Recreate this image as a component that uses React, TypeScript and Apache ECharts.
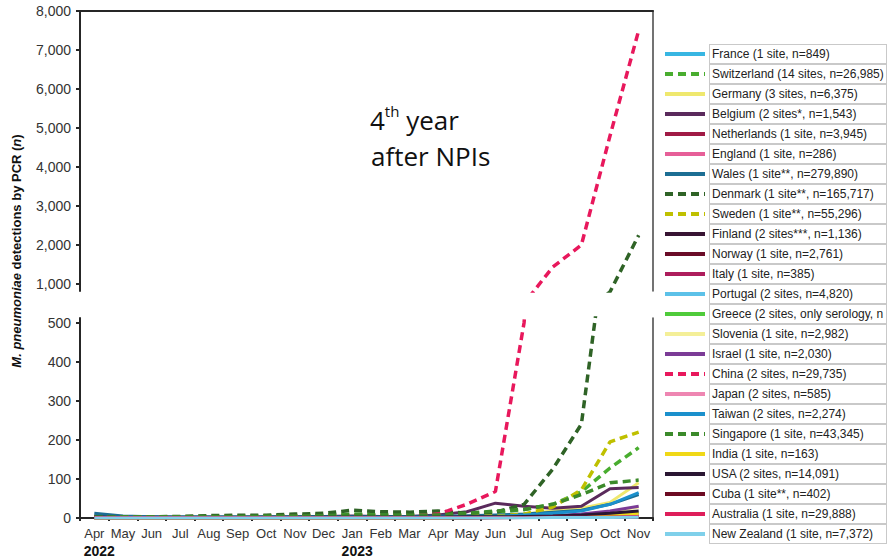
import React, { useEffect, useRef } from "react";
import * as echarts from "echarts";

// Monthly M. pneumoniae PCR detections, April 2022 – November 2023
const periods = [
  "2022-04", "2022-05", "2022-06", "2022-07", "2022-08", "2022-09", "2022-10", "2022-11", "2022-12",
  "2023-01", "2023-02", "2023-03", "2023-04", "2023-05", "2023-06", "2023-07", "2023-08", "2023-09", "2023-10", "2023-11",
];
const monthLabels = [
  "Apr", "May", "Jun", "Jul", "Aug", "Sep", "Oct", "Nov", "Dec",
  "Jan", "Feb", "Mar", "Apr", "May", "Jun", "Jul", "Aug", "Sep", "Oct", "Nov",
];
const yearLabels = ["2022", "", "", "", "", "", "", "", "", "2023", "", "", "", "", "", "", "", "", "", ""];

const upperTicks = [1000, 2000, 3000, 4000, 5000, 6000, 7000, 8000];
const lowerTicks = [0, 100, 200, 300, 400, 500];

const france = [2, 1, 1, 1, 1, 1, 1, 1, 1, 1, 1, 1, 1, 1, 1, 2, 2, 3, 4, 5];
const switzerland = [4, 3, 3, 3, 4, 4, 5, 6, 8, 10, 9, 9, 10, 12, 14, 22, 35, 67, 128, 180];
const germany = [3, 2, 2, 2, 2, 2, 3, 3, 3, 4, 3, 3, 4, 4, 6, 10, 18, 25, 40, 90];
const belgium = [5, 3, 3, 2, 2, 2, 3, 3, 4, 5, 4, 4, 8, 16, 38, 30, 25, 30, 75, 78];
const netherlands = [1, 1, 1, 1, 1, 1, 1, 1, 1, 1, 1, 1, 1, 1, 2, 2, 3, 4, 6, 8];
const england = [0, 0, 0, 0, 0, 0, 0, 0, 0, 0, 0, 0, 0, 1, 1, 2, 3, 4, 5, 6];
const wales = [12, 5, 3, 3, 3, 3, 3, 3, 4, 4, 4, 4, 5, 6, 8, 10, 15, 20, 35, 60];
const denmark = [3, 2, 3, 4, 6, 7, 7, 10, 12, 20, 16, 15, 18, 12, 15, 35, 125, 240, 800, 2250];
const sweden = [2, 2, 2, 2, 2, 2, 2, 3, 3, 3, 3, 3, 3, 4, 5, 10, 28, 72, 195, 220];
const finland = [0, 0, 0, 0, 0, 0, 0, 0, 0, 0, 0, 0, 0, 0, 1, 1, 1, 2, 3, 4];
const norway = [0, 0, 0, 0, 0, 0, 0, 0, 0, 0, 0, 0, 0, 0, 1, 1, 2, 2, 3, 4];
const italy = [0, 0, 0, 0, 0, 0, 0, 0, 0, 0, 0, 0, 0, 1, 1, 1, 2, 3, 3, 5];
const portugal = [1, 1, 1, 1, 1, 1, 1, 1, 1, 1, 1, 1, 1, 2, 2, 2, 4, 5, 8, 12];
const greece = [0, 0, 0, 0, 0, 0, 0, 0, 0, 0, 0, 0, 0, 0, 1, 1, 2, 4, 6, 10];
const slovenia = [0, 0, 0, 0, 0, 0, 0, 0, 0, 0, 0, 0, 0, 1, 1, 2, 5, 8, 15, 28];
const israel = [1, 1, 1, 1, 1, 1, 1, 1, 1, 1, 1, 1, 1, 2, 2, 3, 6, 10, 18, 30];
const china = [2, 2, 2, 2, 3, 3, 3, 4, 4, 5, 5, 5, 10, 35, 68, 500, 1435, 2000, 4800, 7500];
const japan = [0, 0, 0, 0, 0, 0, 0, 0, 0, 0, 0, 0, 0, 0, 0, 1, 2, 3, 5, 8];
const taiwan = [1, 1, 1, 1, 1, 1, 1, 1, 1, 1, 1, 1, 2, 3, 4, 8, 12, 18, 35, 65];
const singapore = [3, 3, 3, 3, 4, 4, 5, 5, 6, 8, 7, 7, 8, 12, 18, 22, 35, 60, 90, 97];
const india = [0, 0, 0, 0, 0, 0, 0, 0, 0, 0, 0, 0, 0, 1, 2, 3, 4, 6, 8, 12];
const usa = [2, 1, 1, 1, 1, 1, 1, 1, 2, 2, 2, 2, 2, 3, 3, 4, 5, 8, 12, 18];
const cuba = [0, 0, 0, 0, 0, 0, 0, 0, 0, 0, 0, 0, 0, 0, 0, 1, 1, 1, 2, 2];
const australia = [1, 1, 1, 1, 1, 1, 1, 1, 1, 1, 1, 1, 1, 1, 1, 1, 2, 2, 2, 3];
const newZealand = [0, 0, 0, 0, 0, 0, 0, 0, 0, 0, 0, 0, 0, 0, 0, 0, 1, 1, 1, 2];

type Country = { label: string; values: number[]; color: string; dashed: boolean };

const countries: Country[] = [
  { label: "France (1 site, n=849)", values: france, color: "#38b6e2", dashed: false },
  { label: "Switzerland (14 sites, n=26,985)", values: switzerland, color: "#49ad2f", dashed: true },
  { label: "Germany (3 sites, n=6,375)", values: germany, color: "#efe86e", dashed: false },
  { label: "Belgium (2 sites*, n=1,543)", values: belgium, color: "#5a2a5c", dashed: false },
  { label: "Netherlands (1 site, n=3,945)", values: netherlands, color: "#a01a45", dashed: false },
  { label: "England (1 site, n=286)", values: england, color: "#e65f98", dashed: false },
  { label: "Wales (1 site**, n=279,890)", values: wales, color: "#1c6e93", dashed: false },
  { label: "Denmark (1 site**, n=165,717)", values: denmark, color: "#2f6326", dashed: true },
  { label: "Sweden (1 site**, n=55,296)", values: sweden, color: "#bfc000", dashed: true },
  { label: "Finland (2 sites***, n=1,136)", values: finland, color: "#371433", dashed: false },
  { label: "Norway (1 site, n=2,761)", values: norway, color: "#6a0c28", dashed: false },
  { label: "Italy (1 site, n=385)", values: italy, color: "#ad1d5c", dashed: false },
  { label: "Portugal (2 sites, n=4,820)", values: portugal, color: "#5cc1e8", dashed: false },
  { label: "Greece (2 sites, only serology, n.d.)", values: greece, color: "#4fcb3a", dashed: false },
  { label: "Slovenia (1 site, n=2,982)", values: slovenia, color: "#f4ef98", dashed: false },
  { label: "Israel (1 site, n=2,030)", values: israel, color: "#7b3b96", dashed: false },
  { label: "China (2 sites, n=29,735)", values: china, color: "#e8185c", dashed: true },
  { label: "Japan (2 sites, n=585)", values: japan, color: "#ee86b2", dashed: false },
  { label: "Taiwan (2 sites, n=2,274)", values: taiwan, color: "#1b90cc", dashed: false },
  { label: "Singapore (1 site, n=43,345)", values: singapore, color: "#3b8a2a", dashed: true },
  { label: "India (1 site, n=163)", values: india, color: "#f0d816", dashed: false },
  { label: "USA (2 sites, n=14,091)", values: usa, color: "#2a1632", dashed: false },
  { label: "Cuba (1 site**, n=402)", values: cuba, color: "#6c0a22", dashed: false },
  { label: "Australia (1 site, n=29,888)", values: australia, color: "#de1e5a", dashed: false },
  { label: "New Zealand (1 site, n=7,372)", values: newZealand, color: "#7fd0ea", dashed: false },
];

const FONT = '"Liberation Sans", Arial, Helvetica, sans-serif';
const AXIS_COLOR = "#262626";
const UPPER_MIN = 821;
const UPPER_MAX = 8000;
const LOWER_MAX = 512;

function buildOption() {
  const series: any[] = [];
  countries.forEach((c, idx) => {
    const base = {
      type: "line",
      name: c.label,
      data: c.values,
      symbol: "none",
      silent: true,
      clip: true,
      z: 2 + idx * 0.01,
      itemStyle: { color: c.color },
      lineStyle: {
        color: c.color,
        width: c.dashed ? 3.5 : 3,
        type: c.dashed ? [8, 5] : "solid",
      },
    };
    series.push({ ...base, xAxisIndex: 1, yAxisIndex: 2 });
    // the upper panel only holds series that climb past its lower bound
    if (Math.max(...c.values) > UPPER_MIN) {
      series.push({ ...base, xAxisIndex: 0, yAxisIndex: 0 });
    }
  });

  const thousands = (v: number) => v.toLocaleString("en-US");

  return {
    animation: false,
    backgroundColor: "#ffffff",
    textStyle: { fontFamily: FONT },
    grid: [
      { left: 80, top: 11, width: 573, height: 280 },
      { left: 80, top: 318, width: 573, height: 200 },
    ],
    xAxis: [
      {
        gridIndex: 0,
        type: "category",
        data: periods,
        position: "top",
        boundaryGap: true,
        axisLine: { show: true, onZero: false, lineStyle: { color: AXIS_COLOR, width: 2 } },
        axisTick: { show: false },
        axisLabel: { show: false },
        splitLine: { show: false },
      },
      {
        gridIndex: 1,
        type: "category",
        data: periods,
        position: "bottom",
        boundaryGap: true,
        axisLine: { show: true, onZero: false, lineStyle: { color: AXIS_COLOR, width: 2 } },
        axisTick: { show: true, interval: 0, length: 3, lineStyle: { color: AXIS_COLOR, width: 2 } },
        axisLabel: {
          interval: 0,
          margin: 6,
          formatter: (_v: string, i: number) =>
            yearLabels[i]
              ? `{m|${monthLabels[i]}}\n{y|${yearLabels[i]}}`
              : `{m|${monthLabels[i]}}`,
          rich: {
            m: { fontFamily: FONT, fontSize: 13, color: "#333", lineHeight: 18 },
            y: { fontFamily: FONT, fontSize: 14, fontWeight: "bold", color: "#111", lineHeight: 18, padding: [0, 0, 0, 10] },
          },
        },
        splitLine: { show: false },
      },
    ],
    yAxis: [
      {
        gridIndex: 0,
        type: "value",
        min: UPPER_MIN,
        max: UPPER_MAX,
        axisLine: { show: true, lineStyle: { color: AXIS_COLOR, width: 2 } },
        axisTick: { show: true, length: 4, customValues: upperTicks, lineStyle: { color: AXIS_COLOR, width: 2 } },
        axisLabel: { customValues: upperTicks, formatter: thousands, fontSize: 14, color: "#333", margin: 9, fontFamily: FONT },
        splitLine: { show: false },
      },
      {
        gridIndex: 0,
        type: "value",
        position: "right",
        min: UPPER_MIN,
        max: UPPER_MAX,
        axisLine: { show: true, lineStyle: { color: "#444", width: 1.5 } },
        axisTick: { show: false },
        axisLabel: { show: false },
        splitLine: { show: false },
      },
      {
        gridIndex: 1,
        type: "value",
        min: 0,
        max: LOWER_MAX,
        axisLine: { show: true, lineStyle: { color: AXIS_COLOR, width: 2 } },
        axisTick: { show: true, length: 4, customValues: lowerTicks, lineStyle: { color: AXIS_COLOR, width: 2 } },
        axisLabel: { customValues: lowerTicks, formatter: thousands, fontSize: 14, color: "#333", margin: 9, fontFamily: FONT },
        splitLine: { show: false },
      },
      {
        gridIndex: 1,
        type: "value",
        position: "right",
        min: 0,
        max: LOWER_MAX,
        axisLine: { show: true, lineStyle: { color: "#444", width: 1.5 } },
        axisTick: { show: false },
        axisLabel: { show: false },
        splitLine: { show: false },
      },
    ],
    legend: {
      data: countries.map((c) => c.label),
      orient: "vertical",
      left: 663,
      top: 44,
      padding: 0,
      itemGap: 0,
      itemWidth: 40,
      itemHeight: 20,
      selectedMode: false,
      itemStyle: { opacity: 0 },
      lineStyle: { width: 4 },
      textStyle: {
        fontFamily: FONT,
        fontSize: 12,
        color: "#222",
        width: 174,
        height: 18,
        lineHeight: 18,
        padding: [0, 0, 0, 2],
        borderColor: "#c9c9c9",
        borderWidth: 1,
        backgroundColor: "#ffffff",
        overflow: "truncate",
        ellipsis: "",
      },
    },
    graphic: [
      {
        type: "text",
        x: 16,
        y: 251,
        rotation: Math.PI / 2,
        style: {
          text: "{i|M. pneumoniae} detections by PCR ({i|n})",
          align: "center",
          verticalAlign: "middle",
          fontFamily: FONT,
          fontSize: 13,
          fontWeight: "bold",
          fill: "#111",
          rich: {
            i: { fontFamily: FONT, fontSize: 13, fontWeight: "bold", fontStyle: "italic", fill: "#111" },
          },
        },
      },
      {
        type: "text",
        x: 370,
        y: 118,
        style: {
          text: "{b|4}{s|th}{b| year}",
          align: "left",
          verticalAlign: "middle",
          rich: {
            b: { fontFamily: '"Open Sans", sans-serif', fontSize: 26, fill: "#111", lineHeight: 30, verticalAlign: "bottom" },
            s: { fontFamily: '"Open Sans", sans-serif', fontSize: 15, fill: "#111", lineHeight: 30, verticalAlign: "top" },
          },
        },
      },
      {
        type: "text",
        x: 371,
        y: 156,
        style: {
          text: "after NPIs",
          align: "left",
          verticalAlign: "middle",
          fontFamily: '"Open Sans", sans-serif',
          fontSize: 26,
          fill: "#111",
        },
      },
    ],
    series,
  };
}

export default function App() {
  const ref = useRef<HTMLDivElement | null>(null);

  useEffect(() => {
    if (!ref.current) return;
    const chart = echarts.init(ref.current, undefined, { renderer: "svg" });
    chart.setOption(buildOption() as any);
    return () => {
      chart.dispose();
    };
  }, []);

  return (
    <div
      ref={ref}
      style={{ position: "fixed", left: 0, top: 0, width: 887, height: 560, background: "#fff" }}
    />
  );
}
